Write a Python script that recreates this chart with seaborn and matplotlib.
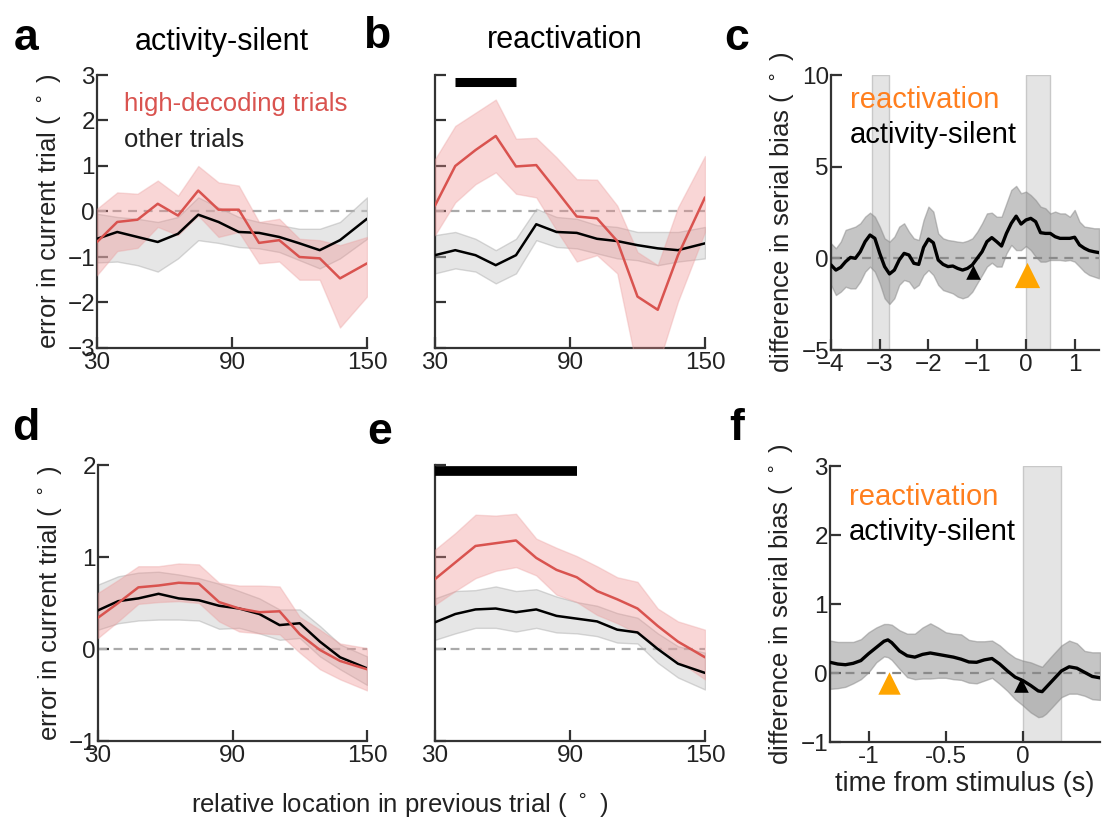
import numpy as np
import pandas as pd
import matplotlib
matplotlib.use("Agg")
import matplotlib.pyplot as plt
import seaborn as sns

# ---------------- data ----------------
loc = [30, 39, 48, 57, 66, 75, 84, 93, 102, 111, 120, 129, 138, 150]

# panel a (activity-silent, single dataset)
a_red = [-0.67, -0.23, -0.18, 0.17, -0.09, 0.46, 0.04, 0.04, -0.69, -0.63, -1.0, -1.03, -1.47, -1.14]
a_red_hi = [0.06, 0.42, 0.39, 0.68, 0.35, 1.0, 0.64, 0.57, -0.23, -0.16, -0.6, -0.63, -0.74, -0.56]
a_red_lo = [-1.4, -0.87, -0.8, -0.34, -0.52, -0.09, -0.56, -0.45, -1.14, -1.1, -1.5, -1.5, -2.55, -1.87]
a_blk = [-0.6, -0.45, -0.56, -0.67, -0.49, -0.07, -0.23, -0.45, -0.47, -0.56, -0.7, -0.85, -0.63, -0.16]
a_blk_hi = [-0.05, -0.12, -0.16, -0.23, -0.12, 0.31, 0.09, -0.12, -0.23, -0.3, -0.38, -0.38, -0.23, 0.31]
a_blk_lo = [-1.12, -1.1, -1.18, -1.32, -1.03, -0.63, -0.69, -0.78, -0.81, -0.89, -1.07, -1.25, -1.03, -0.6]

# panel b (reactivation, single dataset)
b_red = [0.13, 1.0, 1.35, 1.66, 0.99, 1.02, 0.46, -0.11, -0.15, -0.65, -1.87, -2.16, -0.96, 0.31]
b_red_hi = [1.15, 1.88, 2.17, 2.46, 1.6, 1.62, 1.19, 0.71, 0.7, 0.13, -0.89, -1.18, 0.09, 1.22]
b_red_lo = [-0.52, 0.2, 0.6, 0.86, 0.39, 0.31, -0.41, -1.1, -0.96, -1.36, -3.5, -3.4, -1.98, -0.45]
b_blk = [-0.96, -0.85, -0.96, -1.18, -0.96, -0.28, -0.45, -0.47, -0.6, -0.65, -0.74, -0.81, -0.85, -0.7]
b_blk_hi = [-0.52, -0.45, -0.6, -0.85, -0.6, 0.06, -0.12, -0.16, -0.3, -0.34, -0.45, -0.45, -0.45, -0.34]
b_blk_lo = [-1.36, -1.25, -1.32, -1.58, -1.36, -0.63, -0.78, -0.81, -0.92, -1.03, -1.07, -1.18, -1.1, -1.03]
b_sig = [39, 66]
b_sig_y = 2.85

# panel d (activity-silent, pooled)
d_red = [0.34, 0.5, 0.67, 0.69, 0.72, 0.71, 0.51, 0.44, 0.4, 0.41, 0.16, -0.01, -0.13, -0.22]
d_red_hi = [0.61, 0.75, 0.9, 0.9, 0.93, 0.92, 0.72, 0.69, 0.69, 0.68, 0.35, 0.21, 0.06, 0.01]
d_red_lo = [0.12, 0.3, 0.49, 0.51, 0.52, 0.5, 0.3, 0.19, 0.17, 0.16, -0.04, -0.22, -0.33, -0.45]
d_blk = [0.42, 0.52, 0.55, 0.6, 0.55, 0.53, 0.47, 0.44, 0.38, 0.26, 0.28, 0.08, -0.09, -0.21]
d_blk_hi = [0.7, 0.79, 0.83, 0.84, 0.81, 0.77, 0.71, 0.63, 0.55, 0.43, 0.43, 0.25, 0.05, -0.08]
d_blk_lo = [0.21, 0.28, 0.31, 0.32, 0.32, 0.31, 0.22, 0.23, 0.17, 0.1, 0.12, -0.08, -0.22, -0.39]

# panel e (reactivation, pooled)
e_red = [0.76, 0.94, 1.12, 1.15, 1.18, 0.99, 0.86, 0.78, 0.63, 0.54, 0.44, 0.25, 0.08, -0.09]
e_red_hi = [1.08, 1.26, 1.46, 1.45, 1.47, 1.2, 1.1, 1.01, 0.9, 0.78, 0.73, 0.44, 0.3, 0.21]
e_red_lo = [0.48, 0.63, 0.77, 0.85, 0.89, 0.8, 0.59, 0.51, 0.37, 0.28, 0.17, 0.03, -0.13, -0.33]
e_blk = [0.29, 0.38, 0.43, 0.44, 0.4, 0.43, 0.36, 0.33, 0.3, 0.21, 0.18, 0.0, -0.16, -0.26]
e_blk_hi = [0.55, 0.63, 0.64, 0.68, 0.63, 0.65, 0.57, 0.51, 0.47, 0.39, 0.34, 0.17, 0.03, -0.04]
e_blk_lo = [0.1, 0.17, 0.23, 0.23, 0.19, 0.23, 0.18, 0.17, 0.14, 0.07, 0.06, -0.15, -0.31, -0.44]
e_sig = [30, 93]
e_sig_y = 1.93

# panel c (time course, single dataset)
c_time = [-4.0, -3.9, -3.8, -3.7, -3.6, -3.5, -3.4, -3.3, -3.2, -3.1, -3.0, -2.9, -2.8, -2.7,
          -2.6, -2.5, -2.4, -2.3, -2.2, -2.1, -2.0, -1.9, -1.8, -1.7, -1.6, -1.5, -1.4, -1.3,
          -1.2, -1.1, -1.0, -0.9, -0.8, -0.7, -0.6, -0.5, -0.4, -0.3, -0.2, -0.1, 0.0, 0.1,
          0.2, 0.3, 0.4, 0.5, 0.6, 0.7, 0.8, 0.9, 1.0, 1.1, 1.2, 1.3, 1.4, 1.5]
c_diff = [-0.36, -0.64, -0.49, -0.18, 0.05, 0.0, 0.36, 0.91, 1.27, 1.09, 0.27, -0.45, -0.85, -0.64,
          -0.09, 0.27, 0.18, -0.27, -0.33, 0.6, 1.05, 0.85, -0.09, -0.33, -0.45, -0.42, -0.55, -0.64,
          -0.55, -0.36, 0.0, 0.36, 0.91, 1.13, 0.91, 0.67, 1.36, 1.91, 2.3, 1.87, 2.09, 2.18,
          2.0, 1.4, 1.36, 1.36, 1.18, 1.09, 1.09, 1.09, 1.15, 0.73, 0.55, 0.42, 0.36, 0.31]
c_hi = [0.82, 0.55, 0.91, 1.55, 1.64, 1.73, 1.91, 2.27, 2.49, 2.27, 1.73, 1.09, 0.91, 1.18,
        1.73, 1.91, 1.45, 1.09, 1.0, 2.09, 2.82, 2.55, 1.36, 1.09, 1.0, 0.96, 0.91, 0.88,
        0.96, 1.09, 1.45, 1.91, 2.45, 2.49, 2.27, 2.27, 3.0, 3.73, 3.95, 3.55, 3.64, 3.45,
        3.18, 2.82, 2.73, 2.45, 2.55, 2.45, 2.45, 2.27, 2.64, 2.0, 1.73, 1.69, 1.64, 1.64]
c_lo = [-1.45, -2.0, -1.82, -1.55, -1.64, -1.64, -1.27, -0.73, -0.45, -0.73, -1.36, -2.18, -2.49, -2.18,
        -1.45, -1.18, -1.27, -1.64, -1.45, -0.91, -0.64, -0.91, -1.45, -1.73, -1.82, -1.91, -2.09, -2.18,
        -2.09, -1.82, -1.36, -0.91, -0.45, -0.24, -0.45, -0.45, 0.27, 0.73, 0.45, 0.45, 0.67, 0.45,
        0.09, -0.18, -0.18, -0.09, -0.09, -0.09, -0.13, -0.09, -0.18, -0.45, -0.73, -0.91, -1.0, -1.09]
c_windows = [(-3.15, -2.8), (0.0, 0.5)]
c_react_tri = (0.03, -0.9)
c_silent_tri = (-1.08, -0.75)

# panel f (time course, pooled)
f_time = [-1.25, -1.2, -1.15, -1.1, -1.05, -1.0, -0.95, -0.9, -0.875, -0.85, -0.8, -0.75, -0.7,
          -0.65, -0.6, -0.55, -0.5, -0.45, -0.4, -0.35, -0.3, -0.25, -0.2, -0.15, -0.1, -0.05,
          0.0, 0.05, 0.1, 0.125, 0.15, 0.2, 0.25, 0.3, 0.35, 0.4, 0.45, 0.5]
f_diff = [0.155, 0.13, 0.12, 0.14, 0.18, 0.28, 0.37, 0.46, 0.48, 0.44, 0.32, 0.25, 0.23,
          0.27, 0.29, 0.27, 0.25, 0.23, 0.2, 0.16, 0.155, 0.19, 0.21, 0.13, 0.03, -0.06,
          -0.11, -0.18, -0.26, -0.27, -0.21, -0.09, 0.03, 0.09, 0.07, 0.01, -0.05, -0.07]
f_hi = [0.47, 0.45, 0.45, 0.45, 0.49, 0.59, 0.66, 0.71, 0.71, 0.70, 0.62, 0.57, 0.57,
        0.66, 0.72, 0.66, 0.59, 0.57, 0.56, 0.48, 0.46, 0.46, 0.47, 0.4, 0.3, 0.22,
        0.18, 0.155, 0.11, 0.09, 0.155, 0.28, 0.4, 0.47, 0.43, 0.32, 0.3, 0.3]
f_lo = [-0.23, -0.22, -0.2, -0.15, -0.09, 0.01, 0.155, 0.24, 0.23, 0.19, 0.06, -0.06, -0.09,
        -0.08, -0.08, -0.07, -0.07, -0.09, -0.1, -0.14, -0.15, -0.11, -0.07, -0.16, -0.26, -0.38,
        -0.47, -0.57, -0.64, -0.63, -0.59, -0.47, -0.35, -0.3, -0.3, -0.33, -0.38, -0.39]
f_windows = [(0.0, 0.25)]
f_react_tri = (-0.87, -0.14)
f_silent_tri = (-0.01, -0.17)

# ---------------- style ----------------
sns.set_style("ticks")
plt.rcParams["font.family"] = ["Liberation Sans", "DejaVu Sans"]
plt.rcParams["axes.unicode_minus"] = True

RED = "#d9534f"
ORANGE_TXT = "#ff7f1e"
ORANGE_TRI = "#ffa500"
TXT = "#222222"
SPINE = "#333333"

fig = plt.figure(figsize=(11.02, 8.22), dpi=100)

W, H = 1102.0, 822.0
def axes_px(l, t, r, b):
    return fig.add_axes([l / W, 1 - b / H, (r - l) / W, (b - t) / H])

ax_a = axes_px(97, 75, 367, 348)
ax_b = axes_px(435, 75, 705, 348)
ax_c = axes_px(831, 75, 1099, 350)
ax_d = axes_px(98, 465, 367, 741)
ax_e = axes_px(435, 465, 705, 741)
ax_f = axes_px(830, 466, 1100, 742)


def style_axes(ax):
    sns.despine(ax=ax)
    for s in ["left", "bottom"]:
        ax.spines[s].set_linewidth(1.6)
        ax.spines[s].set_color(SPINE)
    ax.tick_params(direction="in", length=8, width=1.6, colors=SPINE,
                   labelsize=17.5, labelcolor=TXT)
    ax.tick_params(axis="y", pad=1.5)
    ax.tick_params(axis="x", pad=3)


def tuning_panel(ax, red, rhi, rlo, blk, bhi, blo, ylim, yticks, show_ylab):
    ax.axhline(0, color="#aaaaaa", ls=(0, (4, 3)), lw=1.6, zorder=1)
    ax.fill_between(loc, bhi, blo, facecolor="#c8c8c8", alpha=0.45,
                    edgecolor="#aaaaaa", lw=1.0, zorder=2)
    ax.fill_between(loc, rhi, rlo, facecolor="#f08c8c", alpha=0.35,
                    edgecolor="#eaa0a0", lw=1.0, zorder=3)
    df = pd.DataFrame({"loc": loc * 2, "err": list(blk) + list(red),
                       "grp": ["other"] * len(loc) + ["high"] * len(loc)})
    sns.lineplot(data=df, x="loc", y="err", hue="grp",
                 palette={"other": "black", "high": RED},
                 lw=1.8, legend=False, ax=ax, zorder=4, errorbar=None)
    ax.set_xlim(30, 150)
    ax.set_ylim(*ylim)
    ax.set_xticks([30, 90, 150])
    ax.set_yticks(yticks)
    ax.set_xlabel("")
    ax.set_ylabel("")
    style_axes(ax)
    if not show_ylab:
        ax.set_yticklabels([])


tuning_panel(ax_a, a_red, a_red_hi, a_red_lo, a_blk, a_blk_hi, a_blk_lo,
             (-3, 3), [-3, -2, -1, 0, 1, 2, 3], True)
tuning_panel(ax_b, b_red, b_red_hi, b_red_lo, b_blk, b_blk_hi, b_blk_lo,
             (-3, 3), [-3, -2, -1, 0, 1, 2, 3], False)
tuning_panel(ax_d, d_red, d_red_hi, d_red_lo, d_blk, d_blk_hi, d_blk_lo,
             (-1, 2), [-1, 0, 1, 2], True)
tuning_panel(ax_e, e_red, e_red_hi, e_red_lo, e_blk, e_blk_hi, e_blk_lo,
             (-1, 2), [-1, 0, 1, 2], False)

ax_a.set_yticklabels(["\u22123", "\u22122", "\u22121", "0", "1", "2", "3"])
ax_d.set_yticklabels(["\u22121", "0", "1", "2"])

ax_b.plot(b_sig, [b_sig_y, b_sig_y], color="black", lw=6.5,
          solid_capstyle="butt", zorder=6, clip_on=False)
ax_e.plot(e_sig, [e_sig_y, e_sig_y], color="black", lw=7,
          solid_capstyle="butt", zorder=6, clip_on=False)

ax_a.text(0.1, 0.895, "high-decoding trials", color=RED, fontsize=18.5,
          transform=ax_a.transAxes, va="center")
ax_a.text(0.1, 0.762, "other trials", color=TXT, fontsize=18.5,
          transform=ax_a.transAxes, va="center")

for ax in (ax_a, ax_d):
    ax.set_ylabel("error in current trial ( $^\\circ$ )", fontsize=18.5,
                  color=TXT, labelpad=3)


def time_panel(ax, t, m, hi, lo, windows, xlim, ylim, yticks, react_tri,
               silent_tri, big, small, lw, ty1, ty2):
    for (w0, w1) in windows:
        ax.axvspan(w0, w1, facecolor="#e4e4e4", edgecolor="#c8c8c8",
                   lw=1.0, zorder=0)
    ax.axhline(0, color="#888888", ls=(0, (4, 3)), lw=1.6, zorder=1)
    ax.fill_between(t, hi, lo, facecolor="#8c8c8c", alpha=0.5,
                    edgecolor="#888888", lw=1.0, zorder=2)
    sns.lineplot(x=t, y=m, color="black", lw=lw, ax=ax, zorder=4,
                 errorbar=None)
    ax.scatter([react_tri[0]], [react_tri[1]], marker="^", s=big,
               color=ORANGE_TRI, zorder=5, linewidths=0)
    ax.scatter([silent_tri[0]], [silent_tri[1]], marker="^", s=small,
               color="black", zorder=5, linewidths=0)
    ax.set_xlim(*xlim)
    ax.set_ylim(*ylim)
    ax.set_yticks(yticks)
    style_axes(ax)
    ax.set_ylabel("difference in serial bias ( $^\\circ$ )", fontsize=18.5,
                  color=TXT, labelpad=4)
    ax.text(0.07, ty1, "reactivation", color=ORANGE_TXT, fontsize=21,
            transform=ax.transAxes, va="center")
    ax.text(0.07, ty2, "activity-silent", color="black", fontsize=21,
            transform=ax.transAxes, va="center")


time_panel(ax_c, c_time, c_diff, c_hi, c_lo, c_windows, (-4, 1.5), (-5, 10),
           [-5, 0, 5, 10], c_react_tri, c_silent_tri, 330, 110, 2.4, 0.909, 0.782)
ax_c.set_xticks([-4, -3, -2, -1, 0, 1])
ax_c.set_xticklabels(["\u22124", "\u22123", "\u22122", "\u22121", "0", "1"])
ax_c.set_yticklabels(["\u22125", "0", "5", "10"])

time_panel(ax_f, f_time, f_diff, f_hi, f_lo, f_windows, (-1.25, 0.5), (-1, 3),
           [-1, 0, 1, 2, 3], f_react_tri, f_silent_tri, 260, 110, 2.4, 0.888, 0.761)
ax_f.set_xticks([-1, -0.5, 0])
ax_f.set_xticklabels(["-1", "-0.5", "0"])
ax_f.set_yticklabels(["\u22121", "0", "1", "2", "3"])
ax_f.set_xlabel("time from stimulus (s)", fontsize=19.5, color=TXT, labelpad=2)

# titles
fig.text(222 / W, 1 - 42 / H, "activity-silent", fontsize=22, color="black",
         ha="center", va="center")
fig.text(565 / W, 1 - 40 / H, "reactivation", fontsize=22, color="black",
         ha="center", va="center")

# panel letters
for lab, x, y in [("a", 26, 38), ("b", 377, 36), ("c", 737, 38),
                  ("d", 26, 428), ("e", 380, 432), ("f", 737, 428)]:
    fig.text(x / W, 1 - y / H, lab, fontsize=32, fontweight="bold",
             ha="center", va="center", color="black")

fig.text(400 / W, 1 - 805 / H, "relative location in previous trial ( $^\\circ$ )",
         fontsize=18.5, color=TXT, ha="center", va="center")

fig.savefig("out.png", dpi=100)
